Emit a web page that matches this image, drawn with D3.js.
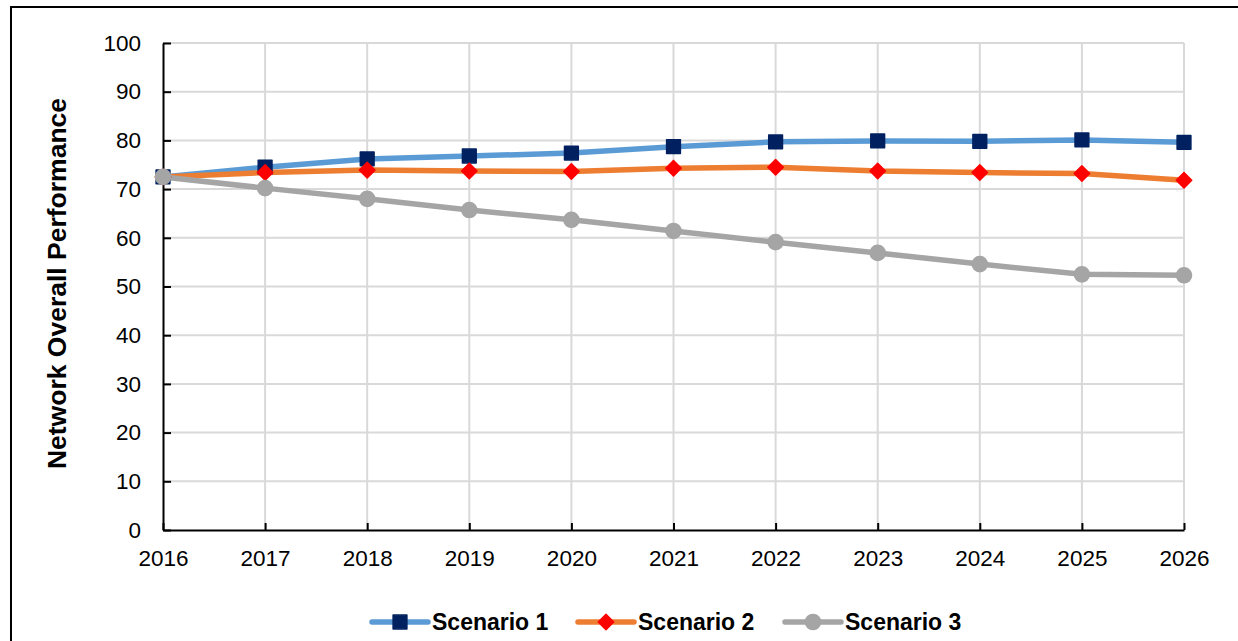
<!DOCTYPE html>
<html>
<head>
<meta charset="utf-8">
<script src="https://cdn.jsdelivr.net/npm/d3@7"></script>
<style>
  body { margin: 0; background: #fff; }
  svg { font-family: "Liberation Sans", Arial, sans-serif; }
</style>
</head>
<body>
<div id="chart"></div>
<script>
const years = [2016, 2017, 2018, 2019, 2020, 2021, 2022, 2023, 2024, 2025, 2026];
const scenario1 = [72.5, 74.5, 76.2, 76.8, 77.4, 78.7, 79.7, 79.9, 79.8, 80.1, 79.6];
const scenario2 = [72.5, 73.4, 73.9, 73.7, 73.6, 74.3, 74.5, 73.7, 73.4, 73.2, 71.8];
const scenario3 = [72.5, 70.2, 68.0, 65.7, 63.7, 61.4, 59.1, 56.9, 54.6, 52.5, 52.3];
const yTicks = [0, 10, 20, 30, 40, 50, 60, 70, 80, 90, 100];

const series = [
  { name: "Scenario 1", values: scenario1, line: "#5B9BD5", marker: "#002060", symbol: d3.symbolSquare, size: 190, rot: 0 },
  { name: "Scenario 2", values: scenario2, line: "#ED7D31", marker: "#FF0000", symbol: d3.symbolSquare, size: 120, rot: 45 },
  { name: "Scenario 3", values: scenario3, line: "#A5A5A5", marker: "#A5A5A5", symbol: d3.symbolCircle, size: 180, rot: 0 }
];

const width = 1238, height = 641;
const svg = d3.select("#chart").append("svg")
  .attr("width", width)
  .attr("height", height);

// outer frame (cut off on right and bottom)
svg.append("rect")
  .attr("x", 11).attr("y", 7)
  .attr("width", 1300).attr("height", 700)
  .attr("fill", "none").attr("stroke", "#000").attr("stroke-width", 2);

const x = d3.scaleLinear().domain([2016, 2026]).range([163, 1184]);
const y = d3.scaleLinear().domain([0, 100]).range([530, 43]);

// gridlines
svg.append("g").selectAll("line.h")
  .data(yTicks.filter(d => d > 0))
  .enter().append("line")
  .attr("x1", x(2016)).attr("x2", x(2026))
  .attr("y1", d => y(d)).attr("y2", d => y(d))
  .attr("stroke", "#d9d9d9").attr("stroke-width", 2);

svg.append("g").selectAll("line.v")
  .data(years.slice(1))
  .enter().append("line")
  .attr("x1", d => x(d)).attr("x2", d => x(d))
  .attr("y1", y(0)).attr("y2", y(100))
  .attr("stroke", "#d9d9d9").attr("stroke-width", 2);

// axes
const yAxis = svg.append("g")
  .attr("transform", `translate(${x(2016)},0)`)
  .call(d3.axisLeft(y).tickValues(yTicks).tickSizeInner(-8).tickSizeOuter(0).tickPadding(22));
const xAxis = svg.append("g")
  .attr("transform", `translate(0,${y(0)})`)
  .call(d3.axisBottom(x).tickValues(years).tickFormat(d3.format("d")).tickSizeInner(-7).tickSizeOuter(0).tickPadding(20));

[yAxis, xAxis].forEach(a => {
  a.select(".domain").attr("stroke", "#000").attr("stroke-width", 2);
  a.selectAll(".tick line").attr("stroke", "#000").attr("stroke-width", 2);
  a.selectAll(".tick text").attr("font-size", 22.5).attr("fill", "#000")
    .style("font-family", "Liberation Sans, Arial, sans-serif");
});

// y label
svg.append("text")
  .attr("transform", `translate(66,${(y(0) + y(100)) / 2 - 3}) rotate(-90)`)
  .attr("text-anchor", "middle")
  .attr("font-size", 26.5).attr("font-weight", "bold")
  .text("Network Overall Performance");

// lines and markers
const line = d3.line()
  .x((d, i) => x(years[i]))
  .y(d => y(d));

series.forEach(s => {
  svg.append("path")
    .datum(s.values)
    .attr("d", line)
    .attr("fill", "none")
    .attr("stroke", s.line)
    .attr("stroke-width", 5.5)
    .attr("stroke-linejoin", "round");
});

series.forEach(s => {
  svg.append("g").selectAll("path")
    .data(s.values)
    .enter().append("path")
    .attr("transform", (d, i) => `translate(${x(years[i])},${y(d)}) rotate(${s.rot})`)
    .attr("d", d3.symbol().type(s.symbol).size(s.size))
    .attr("fill", s.marker)
    .attr("stroke", s.marker)
    .attr("stroke-width", 1.5)
    .attr("stroke-linejoin", "round");
});

// legend
const legendX = [372, 578, 785];
const legendY = 622;
series.forEach((s, i) => {
  const g = svg.append("g").attr("transform", `translate(${legendX[i]},${legendY})`);
  g.append("line")
    .attr("x1", 0).attr("x2", 56)
    .attr("stroke", s.line).attr("stroke-width", 5.5).attr("stroke-linecap", "round");
  g.append("path")
    .attr("transform", `translate(28,0) rotate(${s.rot})`)
    .attr("d", d3.symbol().type(s.symbol).size(s.size))
    .attr("fill", s.marker)
    .attr("stroke", s.marker)
    .attr("stroke-width", 1.5)
    .attr("stroke-linejoin", "round");
  g.append("text")
    .attr("x", 60).attr("y", 8)
    .attr("font-size", 23).attr("font-weight", "bold")
    .text(s.name);
});
</script>
</body>
</html>
